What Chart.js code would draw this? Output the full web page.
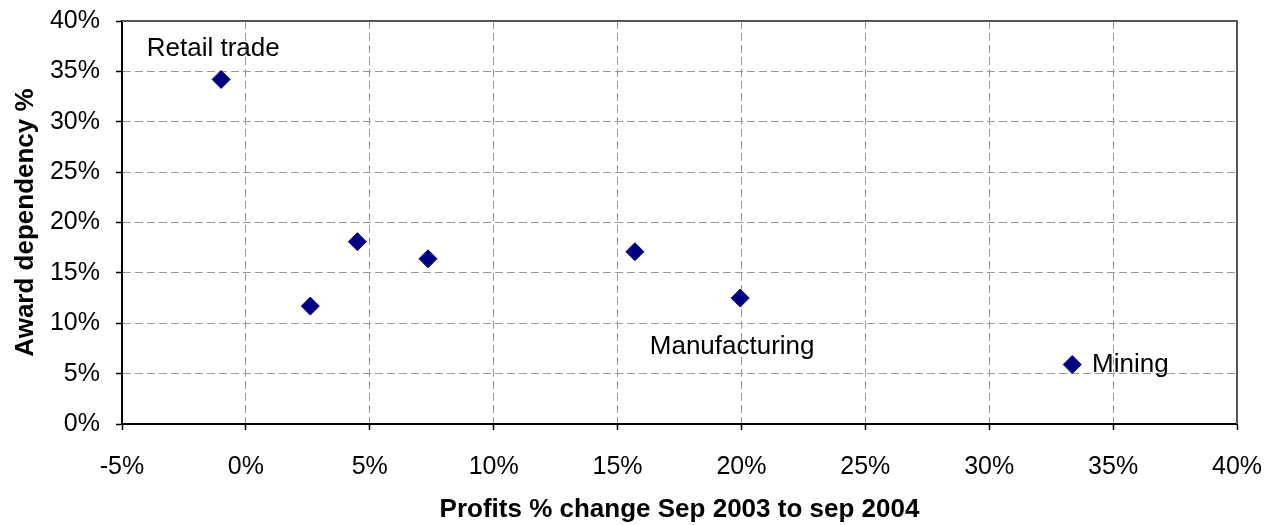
<!DOCTYPE html>
<html>
<head>
<meta charset="utf-8">
<script src="https://cdn.jsdelivr.net/npm/chart.js@4/dist/chart.umd.min.js"></script>
<style>
  html, body { margin: 0; padding: 0; background: #fff; }
  #wrap { width: 1280px; height: 525px; }
</style>
</head>
<body>
<div id="wrap"><canvas id="scatter"></canvas></div>
<script>
// industry points: profits % change vs award dependency %
const profitChange = [-1.0, 2.6, 4.5, 7.35, 15.7, 19.95, 33.35];
const awardDependency = [34.2, 11.7, 18.1, 16.4, 17.1, 12.5, 5.9];

// text labels placed in data units (left edge, vertical middle)
const labelText = ['Retail trade', 'Manufacturing', 'Mining'];
const labelX = [-4.0, 16.3, 34.15];
const labelY = [37.2, 7.7, 5.9];

const xTitle = 'Profits % change Sep 2003 to sep 2004';
const yTitle = 'Award dependency %';

const FONT = "'Liberation Sans', Arial, sans-serif";

// draws the text labels and the top/right frame
const extrasPlugin = {
    id: 'extras',
    afterDatasetsDraw(chart) {
        const ctx = chart.ctx;
        const xs = chart.scales.x;
        const ys = chart.scales.y;
        const area = chart.chartArea;

        ctx.save();
        ctx.strokeStyle = '#555';
        ctx.lineWidth = 2;
        ctx.setLineDash([]);
        ctx.beginPath();
        ctx.moveTo(area.left, area.top);
        ctx.lineTo(area.right, area.top);
        ctx.lineTo(area.right, area.bottom);
        ctx.stroke();

        ctx.fillStyle = '#000';
        ctx.font = '26px ' + FONT;
        ctx.textAlign = 'left';
        ctx.textBaseline = 'middle';
        labelText.forEach((t, i) => {
            ctx.fillText(t, xs.getPixelForValue(labelX[i]), ys.getPixelForValue(labelY[i]));
        });
        ctx.restore();
    }
};

const points = profitChange.map((x, i) => ({ x: x, y: awardDependency[i] }));

new Chart(document.getElementById('scatter'), {
    type: 'scatter',
    data: {
        datasets: [{
            data: points,
            pointStyle: 'rectRot',
            pointRadius: 9,
            pointHoverRadius: 9,
            backgroundColor: '#000080',
            borderColor: '#000080',
            borderWidth: 1
        }]
    },
    options: {
        responsive: true,
        maintainAspectRatio: false,
        animation: false,
        layout: { padding: { top: 21, right: 43, bottom: 0, left: 0 } },
        plugins: {
            legend: { display: false },
            tooltip: { enabled: false }
        },
        scales: {
            x: {
                type: 'linear',
                min: -5,
                max: 40,
                afterFit(scale) {
                    scale.height = 101;
                    scale.paddingLeft = 0;
                    scale.paddingRight = 0;
                },
                ticks: {
                    stepSize: 5,
                    padding: 22,
                    color: '#000',
                    font: { family: FONT, size: 25 },
                    callback: v => v + '%'
                },
                grid: {
                    color: '#999',
                    lineWidth: 1,
                    tickLength: 6,
                    tickColor: '#000',
                    tickWidth: 1.5,
                    tickBorderDash: []
                },
                border: { color: '#000', width: 2, dash: [8, 4] },
                title: {
                    display: true,
                    text: xTitle,
                    color: '#000',
                    font: { family: FONT, size: 26, weight: 'bold' },
                    padding: { top: 8, bottom: 0 }
                }
            },
            y: {
                type: 'linear',
                min: 0,
                max: 40,
                afterFit(scale) {
                    scale.width = 122;
                    scale.paddingTop = 0;
                    scale.paddingBottom = 0;
                },
                ticks: {
                    stepSize: 5,
                    padding: 16,
                    color: '#000',
                    font: { family: FONT, size: 25 },
                    callback: v => v + '%'
                },
                grid: {
                    color: '#999',
                    lineWidth: 1,
                    tickLength: 6,
                    tickColor: '#000',
                    tickWidth: 1.5,
                    tickBorderDash: []
                },
                border: { color: '#000', width: 2, dash: [8, 4] },
                title: {
                    display: true,
                    text: yTitle,
                    color: '#000',
                    font: { family: FONT, size: 26, weight: 'bold' },
                    padding: { top: 10, bottom: 4 }
                }
            }
        }
    },
    plugins: [extrasPlugin]
});
</script>
</body>
</html>
